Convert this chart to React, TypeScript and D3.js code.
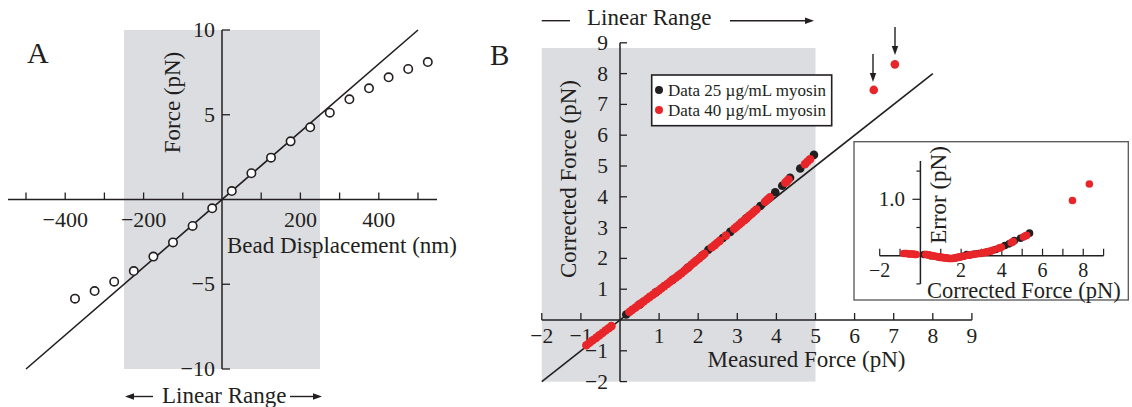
import React from "react";
import { scaleLinear } from "d3";

const ink = "#231f20";
const redColor = "#e8262a";
const shade = "#dcdde0";
const serif = "'Liberation Serif', 'Times New Roman', serif";

// panel A: bead displacement (nm) vs force (pN)
const dispTicks = [-500, -400, -300, -200, -100, 100, 200, 300, 400, 500];
const dispLabels = [-400, -200, 200, 400];
const forceTicksA = [-10, -5, 5, 10];
const beadDisp = [-375, -325, -275, -225, -175, -125, -75, -25, 25, 75, 125, 175, 225, 275, 325, 375, 425, 475, 525];
const beadForce = [-5.85, -5.4, -4.85, -4.22, -3.37, -2.53, -1.56, -0.52, 0.5, 1.55, 2.47, 3.43, 4.26, 5.12, 5.91, 6.56, 7.21, 7.7, 8.11];

// panel B: measured vs corrected force (pN)
const measTicks = [-2, -1, 1, 2, 3, 4, 5, 6, 7, 8, 9];
const corrTicks = [-2, -1, 1, 2, 3, 4, 5, 6, 7, 8, 9];
const redCorr = [
  -0.82, -0.74, -0.66, -0.58, -0.5, -0.42, -0.34, -0.27, -0.2,
  0.26, 0.33, 0.4, 0.47, 0.54, 0.61, 0.68, 0.75, 0.82, 0.89, 0.96, 1.03, 1.1, 1.17, 1.24, 1.31,
  1.38, 1.45, 1.52, 1.59, 1.66, 1.73, 1.8, 1.87, 1.94, 2.01, 2.08, 2.15,
  2.36, 2.43, 2.5, 2.57, 2.74, 2.96, 3.03, 3.1, 3.17, 3.24, 3.31, 3.38, 3.45, 3.52, 3.59,
  3.84, 3.91, 3.98, 4.46, 4.51, 4.56, 5.06, 5.14, 5.22, 7.47, 8.3,
];
const redErr = [
  0.04, 0.04, 0.04, 0.03, 0.03, 0.03, 0.03, 0.02, 0.02,
  0.02, 0.02, 0.01, 0.01, 0.0, 0.0, -0.01, -0.01, -0.02, -0.02, -0.03, -0.03, -0.03, -0.04, -0.04, -0.04,
  -0.05, -0.05, -0.05, -0.05, -0.04, -0.04, -0.03, -0.03, -0.02, -0.02, -0.01, -0.01,
  0.01, 0.01, 0.02, 0.02, 0.03, 0.04, 0.05, 0.05, 0.06, 0.06, 0.07, 0.08, 0.08, 0.09, 0.1,
  0.13, 0.14, 0.15, 0.23, 0.24, 0.25, 0.33, 0.35, 0.36, 0.98, 1.27,
];
const blackCorr = [0.18, 0.5, 0.9, 1.3, 1.7, 2.1, 2.28, 2.66, 2.86, 3.3, 3.7, 4.15, 4.36, 4.62, 4.92, 5.36];
const blackErr = [0.02, 0.0, -0.02, -0.04, -0.04, -0.01, 0.02, 0.03, 0.04, 0.07, 0.11, 0.18, 0.21, 0.27, 0.31, 0.4];

// inset: error vs corrected force
const insetXTicks = [-2, -1, 1, 2, 3, 4, 5, 6, 7, 8, 9];
const insetXLabels = [-2, 2, 4, 6, 8];
const insetYTicks = [-0.5, 0.5, 1.0, 1.5];
const insetYLabels = [1.0];

const fmt = (v: number) => (v < 0 ? "\u2212" + Math.abs(v) : String(v));

const xA = scaleLinear().domain([-500, 500]).range([26, 418]);
const yA = scaleLinear().domain([-10, 10]).range([369, 30]);
const xB = scaleLinear().domain([-2, 9]).range([541.8, 971.9]);
const yB = scaleLinear().domain([-2, 9]).range([381.6, 42.8]);
const xI = scaleLinear().domain([-2, 9]).range([879.7, 1103.6]);
const yI = scaleLinear().domain([0, 1]).range([255.7, 199.3]);

const Arrow = ({ x1, y1, x2, y2 }: { x1: number; y1: number; x2: number; y2: number }) => {
  const a = Math.atan2(y2 - y1, x2 - x1);
  const L = 9, W = 3.2;
  const bx = x2 - L * Math.cos(a), by = y2 - L * Math.sin(a);
  const px = -Math.sin(a) * W, py = Math.cos(a) * W;
  return (
    <g>
      <line x1={x1} y1={y1} x2={bx} y2={by} stroke={ink} strokeWidth={1.4} />
      <path d={`M${x2},${y2}L${bx + px},${by + py}L${bx - px},${by - py}Z`} fill={ink} />
    </g>
  );
};

export default function App() {
  const redPts = redCorr.map((c, i) => ({ m: c - redErr[i], c, e: redErr[i] }));
  const blackPts = blackCorr.map((c, i) => ({ m: c - blackErr[i], c, e: blackErr[i] }));
  return (
    <svg width={1132} height={407} style={{ position: "absolute", left: 0, top: 0, background: "#fff" }} fontFamily={serif} fill={ink}>
      {/* ---------- panel A ---------- */}
      <rect x={xA(-250)} y={yA(10)} width={xA(250) - xA(-250)} height={yA(-10) - yA(10)} fill={shade} />
      <text x={27} y={63} fontSize={30}>A</text>
      <line x1={8} x2={437} y1={yA(0)} y2={yA(0)} stroke={ink} strokeWidth={1.5} />
      {dispTicks.map((t) => (
        <line key={t} x1={xA(t)} x2={xA(t)} y1={yA(0)} y2={yA(0) - 7} stroke={ink} strokeWidth={1.3} />
      ))}
      {dispLabels.map((t) => (
        <text key={t} x={xA(t)} y={227} fontSize={22} textAnchor="middle">{fmt(t)}</text>
      ))}
      <line x1={xA(0)} x2={xA(0)} y1={yA(10)} y2={yA(-10)} stroke={ink} strokeWidth={1.5} />
      {forceTicksA.map((t) => (
        <g key={t}>
          <line x1={xA(0)} x2={xA(0) + 8} y1={yA(t)} y2={yA(t)} stroke={ink} strokeWidth={1.3} />
          <text x={215} y={yA(t) + 7} fontSize={22} textAnchor="end">{fmt(t)}</text>
        </g>
      ))}
      <line x1={xA(-500)} y1={yA(-10)} x2={xA(500)} y2={yA(10)} stroke={ink} strokeWidth={1.6} />
      {beadDisp.map((d, i) => (
        <circle key={i} cx={xA(d)} cy={yA(beadForce[i])} r={4.2} fill="#fff" stroke={ink} strokeWidth={1.6} />
      ))}
      <text transform={`translate(180,102.5) rotate(-90)`} fontSize={23} textAnchor="middle">Force (pN)</text>
      <text x={227} y={252.5} fontSize={23}>Bead Displacement (nm)</text>
      <Arrow x1={153} y1={396.5} x2={125} y2={396.5} />
      <text x={162} y={403} fontSize={23}>Linear Range</text>
      <Arrow x1={290} y1={396.5} x2={322} y2={396.5} />

      {/* ---------- panel B ---------- */}
      <rect x={xB(-2)} y={48} width={xB(5) - xB(-2)} height={yB(-2) - 48} fill={shade} />
      <text x={490} y={65} fontSize={29}>B</text>
      <line x1={541.7} x2={570} y1={20.7} y2={20.7} stroke={ink} strokeWidth={1.4} />
      <text x={587} y={25} fontSize={23}>Linear Range</text>
      <Arrow x1={730} y1={20.7} x2={814} y2={20.7} />

      <line x1={xB(-2)} x2={xB(9)} y1={yB(0)} y2={yB(0)} stroke={ink} strokeWidth={1.5} />
      {measTicks.map((t) => (
        <g key={t}>
          <line x1={xB(t)} x2={xB(t)} y1={yB(0)} y2={yB(0) - 7} stroke={ink} strokeWidth={1.3} />
          <text x={xB(t)} y={343} fontSize={21.5} textAnchor="middle">{fmt(t)}</text>
        </g>
      ))}
      <line x1={xB(0)} x2={xB(0)} y1={yB(9)} y2={yB(-2)} stroke={ink} strokeWidth={1.5} />
      {corrTicks.map((t) => (
        <g key={t}>
          <line x1={xB(0)} x2={xB(0) + 7} y1={yB(t)} y2={yB(t)} stroke={ink} strokeWidth={1.3} />
          <text x={608} y={yB(t) + 7} fontSize={21.5} textAnchor="end">{fmt(t)}</text>
        </g>
      ))}
      <line x1={xB(-2)} y1={yB(-2)} x2={xB(8)} y2={yB(8)} stroke={ink} strokeWidth={1.6} />
      {blackPts.map((p, i) => (
        <circle key={i} cx={xB(p.m)} cy={yB(p.c)} r={4.3} fill={ink} />
      ))}
      {redPts.map((p, i) => (
        <circle key={i} cx={xB(p.m)} cy={yB(p.c)} r={4.3} fill={redColor} />
      ))}
      <Arrow x1={873} y1={54} x2={873} y2={82} />
      <Arrow x1={895} y1={27} x2={895} y2={55} />
      <text transform={`translate(576,179) rotate(-90)`} fontSize={23} textAnchor="middle">Corrected Force (pN)</text>
      <text x={707.5} y={367} fontSize={23}>Measured Force (pN)</text>

      {/* legend */}
      <rect x={651.7} y={75} width={180} height={50.7} fill="#fff" stroke={ink} strokeWidth={1.6} />
      <circle cx={659} cy={90} r={4} fill={ink} />
      <text x={668} y={96} fontSize={17}>Data 25 µg/mL myosin</text>
      <circle cx={659} cy={110} r={4} fill={redColor} />
      <text x={668} y={116} fontSize={17}>Data 40 µg/mL myosin</text>

      {/* inset */}
      <rect x={854} y={141.7} width={274.3} height={158.3} fill="#fff" stroke="#555" strokeWidth={1.3} />
      <line x1={xI(-2)} x2={xI(9)} y1={yI(0)} y2={yI(0)} stroke={ink} strokeWidth={1.5} />
      {insetXTicks.map((t) => (
        <line key={t} x1={xI(t)} x2={xI(t)} y1={yI(0)} y2={yI(0) - 7} stroke={ink} strokeWidth={1.2} />
      ))}
      {insetXLabels.map((t) => (
        <text key={t} x={xI(t)} y={277} fontSize={20} textAnchor="middle">{fmt(t)}</text>
      ))}
      <line x1={xI(0)} x2={xI(0)} y1={yI(1.68)} y2={yI(-0.5)} stroke={ink} strokeWidth={1.5} />
      {insetYTicks.map((t) => (
        <line key={t} x1={xI(0) - (t === 1 ? 8 : 4)} x2={xI(0)} y1={yI(t)} y2={yI(t)} stroke={ink} strokeWidth={1.2} />
      ))}
      {insetYLabels.map((t) => (
        <text key={t} x={905} y={yI(t) + 7} fontSize={21} textAnchor="end">{t.toFixed(1)}</text>
      ))}
      {blackPts.map((p, i) => (
        <circle key={i} cx={xI(p.c)} cy={yI(p.e)} r={3.8} fill={ink} />
      ))}
      {redPts.map((p, i) => (
        <circle key={i} cx={xI(p.c)} cy={yI(p.e)} r={3.8} fill={redColor} />
      ))}
      <text transform={`translate(946,195) rotate(-90)`} fontSize={23} textAnchor="middle">Error (pN)</text>
      <text x={927} y={298} fontSize={22.5}>Corrected Force (pN)</text>
    </svg>
  );
}
